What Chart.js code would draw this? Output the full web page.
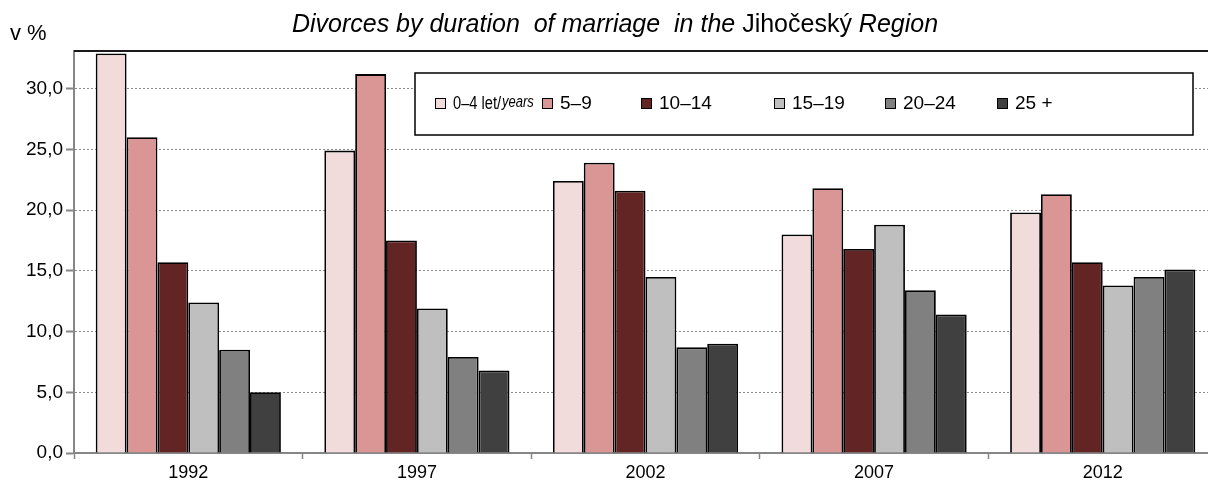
<!DOCTYPE html>
<html>
<head>
<meta charset="utf-8">
<script src="https://cdn.jsdelivr.net/npm/chart.js@4.4.0/dist/chart.umd.min.js"></script>
<style>
  html, body { margin: 0; padding: 0; background: #fff; overflow: hidden; }
  #wrap { width: 1230px; height: 492px; }
</style>
</head>
<body>
<div id="wrap"><canvas id="divorce-bar" width="1230" height="492"></canvas></div>
<script>
// years on the x axis
var years = ["1992", "1997", "2002", "2007", "2012"];
// duration of marriage groups
var groups = ["0–4 let/years", "5–9", "10–14", "15–19", "20–24", "25 +"];
// share of divorces in %, one array per group
var d0_4   = [32.9, 24.9, 22.4, 18.0, 19.8];
var d5_9   = [26.0, 31.2, 23.9, 21.8, 21.3];
var d10_14 = [15.7, 17.5, 21.6, 16.8, 15.7];
var d15_19 = [12.4, 11.9, 14.5, 18.8, 13.8];
var d20_24 = [8.5, 7.9, 8.7, 13.4, 14.5];
var d25    = [5.0, 6.8, 9.0, 11.4, 15.1];
var yTicks = [0, 5, 10, 15, 20, 25, 30];

var colors = ["#f2dcdb", "#d99694", "#632523", "#bfbfbf", "#808080", "#404040"];
var FONT = "'Liberation Sans', Arial, sans-serif";

// title, unit, top border and legend box
var decor = {
	id: 'decor',
	afterDraw: function(chart) {
		var ctx = chart.ctx;
		var area = chart.chartArea;
		ctx.save();

		// top border of the plot
		ctx.strokeStyle = "#1a1a1a";
		ctx.lineWidth = 2;
		ctx.beginPath();
		ctx.moveTo(area.left, area.top);
		ctx.lineTo(chart.width, area.top);
		ctx.stroke();

		// title
		var parts = [
			["italic 25px " + FONT, "Divorces by duration  of marriage  in the "],
			["25px " + FONT, "Jihočeský"],
			["italic 25px " + FONT, " Region"]
		];
		var total = 0;
		parts.forEach(function(p) { ctx.font = p[0]; total += ctx.measureText(p[1]).width; });
		var x = 615 - total / 2;
		ctx.fillStyle = "#000";
		ctx.textBaseline = "alphabetic";
		ctx.textAlign = "left";
		parts.forEach(function(p) { ctx.font = p[0]; ctx.fillText(p[1], x, 32); x += ctx.measureText(p[1]).width; });

		// unit
		ctx.font = "22px " + FONT;
		ctx.fillText("v %", 10, 40);

		// legend
		ctx.fillStyle = "#fff";
		ctx.fillRect(415, 73, 778, 62);
		ctx.strokeStyle = "#000";
		ctx.lineWidth = 1.5;
		ctx.strokeRect(415, 73, 778, 62);
		var itemX = [435, 542, 641, 774, 885, 997];
		var cy = 104;
		chart.data.datasets.forEach(function(ds, i) {
			var sx = itemX[i];
			ctx.fillStyle = ds.backgroundColor;
			ctx.fillRect(sx, cy - 6, 11, 11);
			ctx.strokeStyle = "#000";
			ctx.lineWidth = 1;
			ctx.strokeRect(sx + 0.5, cy - 5.5, 10, 10);
			ctx.fillStyle = "#000";
			ctx.textBaseline = "middle";
			var tx = sx + 18;
			if (i === 0) {
				ctx.font = "18px " + FONT;
				var w1 = ctx.measureText("0–4 let/").width;
				ctx.font = "italic 16px " + FONT;
				var w2 = ctx.measureText("years").width;
				var f = Math.min(1, 80 / (w1 + w2));
				ctx.save();
				ctx.translate(tx, cy);
				ctx.scale(f, 1);
				ctx.font = "18px " + FONT;
				ctx.fillText("0–4 let/", 0, 0);
				ctx.font = "italic 16px " + FONT;
				ctx.fillText("years", w1 + 1, -1);
				ctx.restore();
			} else {
				ctx.font = "19px " + FONT;
				ctx.fillText(ds.label, tx, cy);
			}
		});
		ctx.restore();
	}
};

var series = [d0_4, d5_9, d10_14, d15_19, d20_24, d25];

new Chart(document.getElementById("divorce-bar"), {
	type: 'bar',
	data: {
		labels: years,
		datasets: series.map(function(vals, i) {
			return {
				label: groups[i],
				data: vals,
				backgroundColor: colors[i],
				borderColor: "#000",
				borderWidth: 1.8,
				categoryPercentage: 0.81,
				barPercentage: 1.0
			};
		})
	},
	options: {
		responsive: false,
		animation: false,
		devicePixelRatio: 1,
		layout: { padding: { top: 51, right: 13, left: 0, bottom: 0 } },
		plugins: {
			legend: { display: false },
			title: { display: false },
			tooltip: { enabled: false }
		},
		scales: {
			x: {
				afterFit: function(scale) { scale.height = 39; },
				border: { color: "#868686", width: 2 },
				grid: {
					drawOnChartArea: false,
					drawTicks: true,
					tickLength: 6,
					tickColor: "#868686",
					tickWidth: 1.5,
					offset: true
				},
				ticks: {
					color: "#000",
					font: { family: FONT, size: 18 },
					padding: 3
				}
			},
			y: {
				min: 0,
				max: 33.1,
				afterFit: function(scale) { scale.width = 74; },
				afterBuildTicks: function(scale) {
					scale.ticks = yTicks.map(function(v) { return { value: v }; });
				},
				border: { color: "#868686", width: 2, dash: [2, 2] },
				grid: {
					color: "#8c8c8c",
					lineWidth: 1,
					drawTicks: true,
					tickLength: 8,
					tickColor: "#868686",
					tickWidth: 2,
					tickBorderDash: []
				},
				ticks: {
					color: "#000",
					font: { family: FONT, size: 19 },
					padding: 3,
					callback: function(v) { return v.toFixed(1).replace('.', ','); }
				}
			}
		}
	},
	plugins: [decor]
});
</script>
</body>
</html>
